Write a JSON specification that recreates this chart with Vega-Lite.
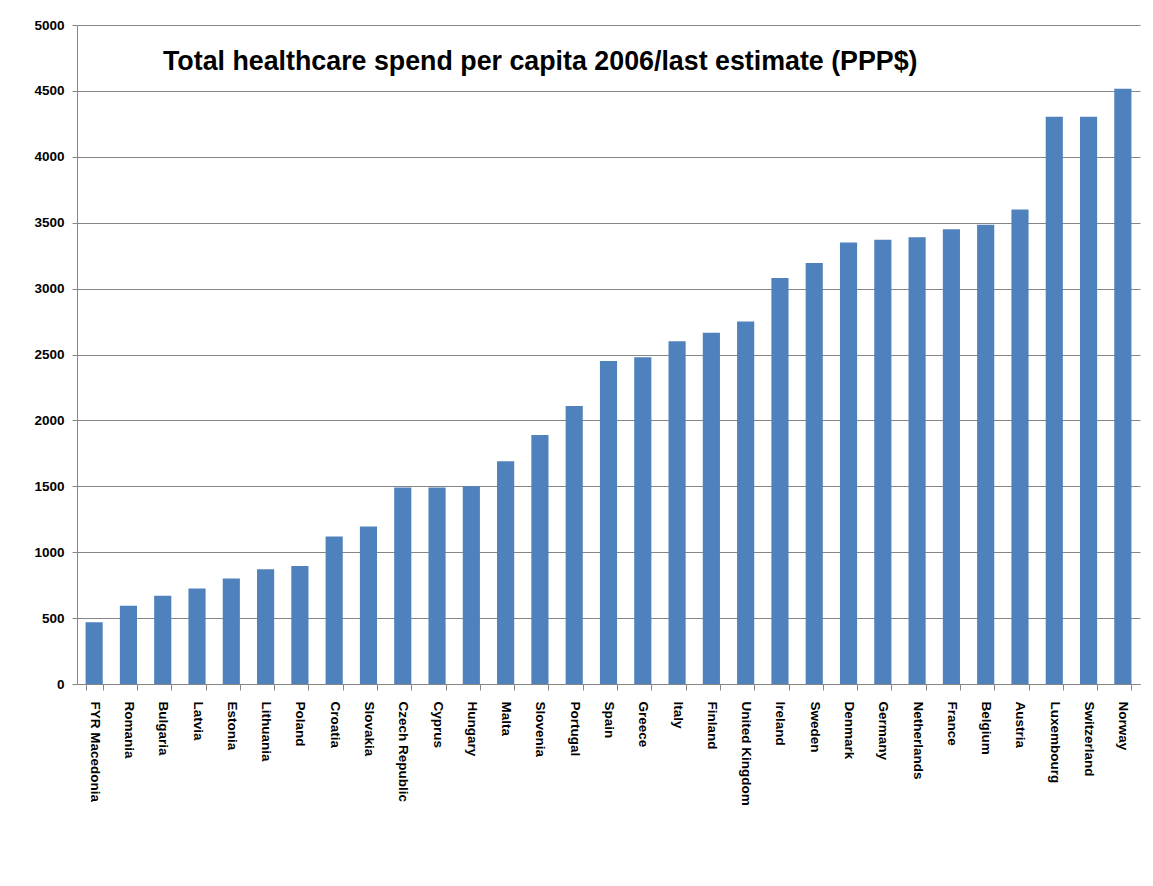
{
  "$schema": "https://vega.github.io/schema/vega-lite/v6.json",
  "width": 1063,
  "height": 659,
  "autosize": {"type": "none"},
  "padding": {"left": 77, "top": 25, "right": 13, "bottom": 202},
  "background": "white",
  "title": {
    "text": "Total healthcare spend per capita 2006/last estimate (PPP$)",
    "anchor": "start",
    "orient": "top",
    "offset": 0,
    "baseline": "alphabetic",
    "dx": 129,
    "dy": 79,
    "font": "Liberation Sans",
    "fontSize": 26.8,
    "fontWeight": "bold",
    "color": "#000000"
  },
  "data": {
    "values": [
      {"country": "FYR Macedonia", "spend": 468},
      {"country": "Romania", "spend": 593},
      {"country": "Bulgaria", "spend": 670},
      {"country": "Latvia", "spend": 725},
      {"country": "Estonia", "spend": 800},
      {"country": "Lithuania", "spend": 870},
      {"country": "Poland", "spend": 895},
      {"country": "Croatia", "spend": 1120},
      {"country": "Slovakia", "spend": 1195},
      {"country": "Czech Republic", "spend": 1490},
      {"country": "Cyprus", "spend": 1490},
      {"country": "Hungary", "spend": 1500},
      {"country": "Malta", "spend": 1690},
      {"country": "Slovenia", "spend": 1890},
      {"country": "Portugal", "spend": 2110},
      {"country": "Spain", "spend": 2450},
      {"country": "Greece", "spend": 2480},
      {"country": "Italy", "spend": 2600},
      {"country": "Finland", "spend": 2665},
      {"country": "United Kingdom", "spend": 2750},
      {"country": "Ireland", "spend": 3080},
      {"country": "Sweden", "spend": 3195},
      {"country": "Denmark", "spend": 3350},
      {"country": "Germany", "spend": 3370},
      {"country": "Netherlands", "spend": 3390},
      {"country": "France", "spend": 3450},
      {"country": "Belgium", "spend": 3485},
      {"country": "Austria", "spend": 3600},
      {"country": "Luxembourg", "spend": 4304},
      {"country": "Switzerland", "spend": 4304},
      {"country": "Norway", "spend": 4517}
    ]
  },
  "mark": {"type": "bar", "color": "#4F81BD"},
  "encoding": {
    "x": {
      "field": "country",
      "type": "nominal",
      "sort": null,
      "scale": {"paddingInner": 0.5, "paddingOuter": 0.25},
      "axis": {
        "title": null,
        "tickBand": "extent",
        "labelAngle": 90,
        "labelAlign": "left",
        "labelBaseline": "middle",
        "labelPadding": 11,
        "labelFont": "Liberation Sans",
        "labelFontSize": 13.5,
        "labelFontWeight": "bold",
        "labelColor": "#000000",
        "tickSize": 6,
        "tickColor": "#868686",
        "domainColor": "#868686",
        "grid": false
      }
    },
    "y": {
      "field": "spend",
      "type": "quantitative",
      "scale": {"domain": [0, 5000], "nice": false},
      "axis": {
        "title": null,
        "values": [0, 500, 1000, 1500, 2000, 2500, 3000, 3500, 4000, 4500, 5000],
        "format": "d",
        "labelFont": "Liberation Sans",
        "labelFontSize": 13.5,
        "labelFontWeight": "bold",
        "labelColor": "#000000",
        "labelPadding": 8,
        "tickSize": 5,
        "tickColor": "#868686",
        "domainColor": "#868686",
        "grid": true,
        "gridColor": "#868686",
        "gridOpacity": 1
      }
    }
  },
  "config": {"view": {"stroke": null}}
}
